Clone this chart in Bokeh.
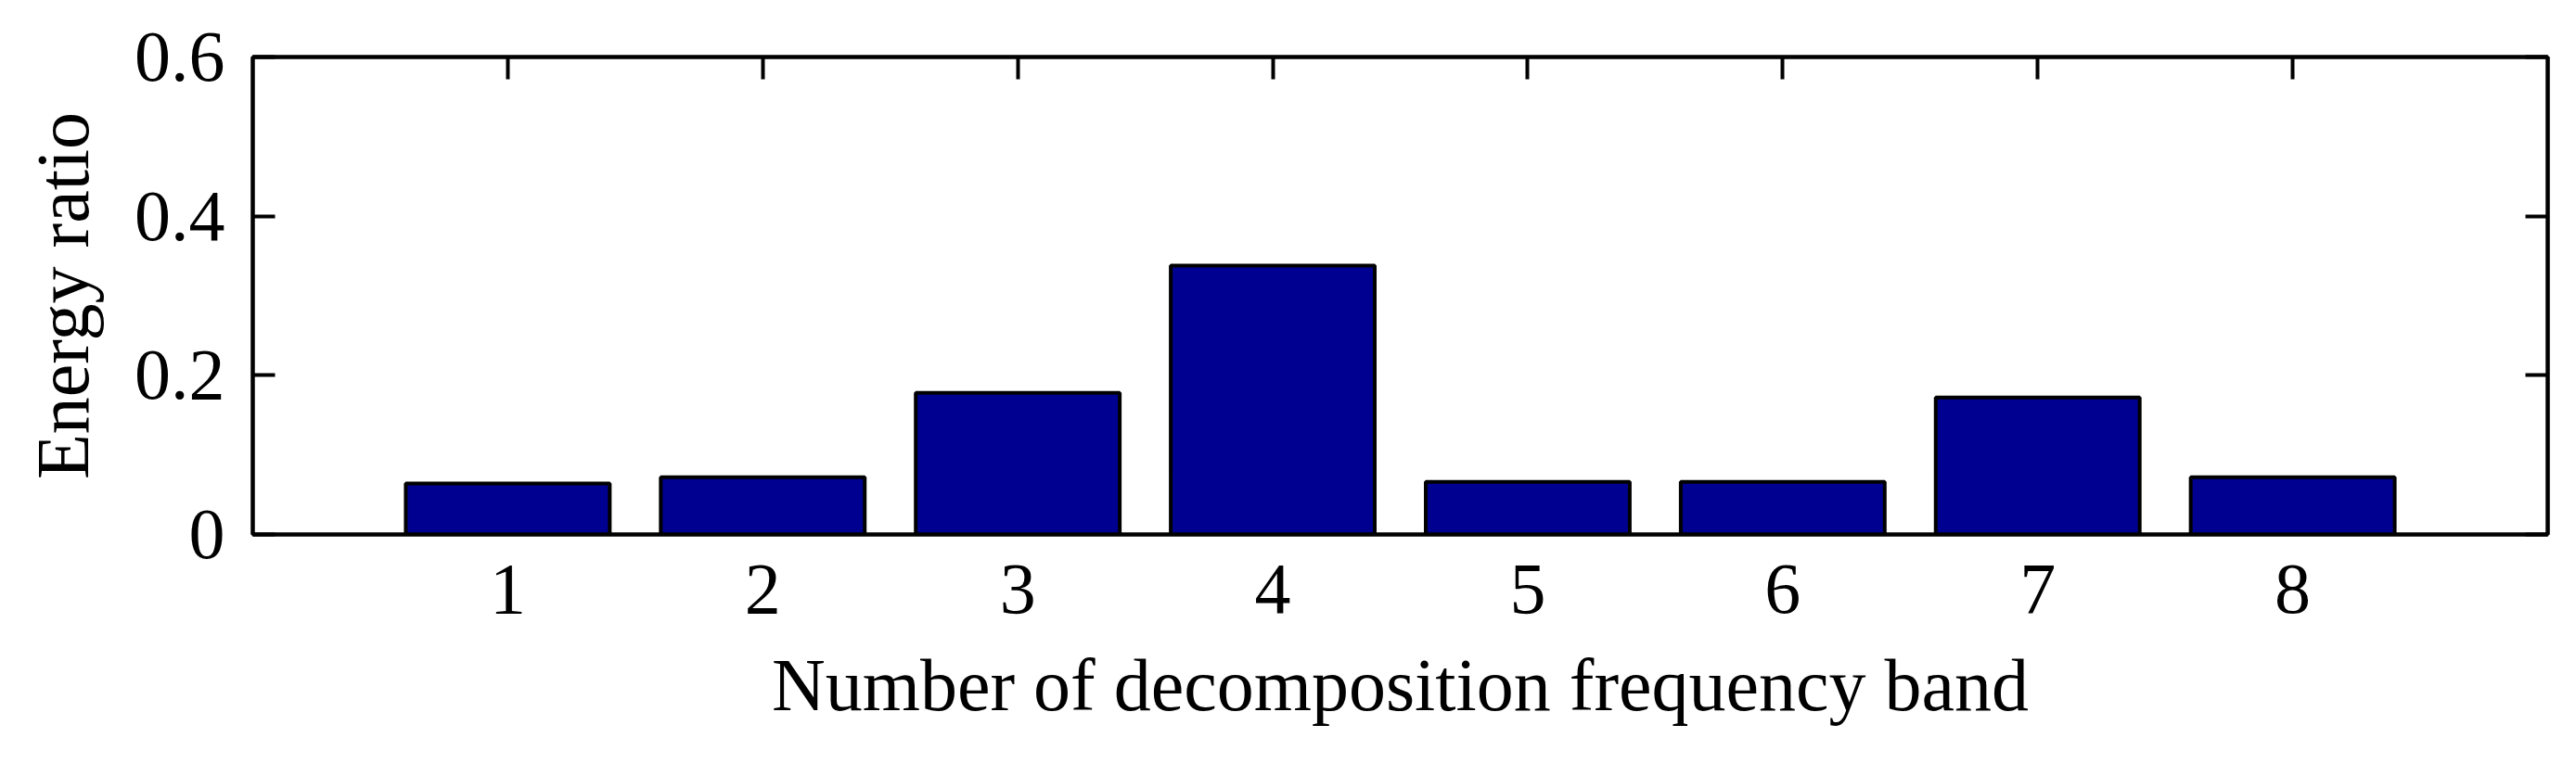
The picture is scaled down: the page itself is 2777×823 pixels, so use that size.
from bokeh.plotting import figure
from bokeh.models import LinearAxis, FixedTicker, Range1d
from bokeh.embed import file_html
from bokeh.resources import INLINE

# Data
bands = [1, 2, 3, 4, 5, 6, 7, 8]
energy_ratio = [0.064, 0.072, 0.178, 0.338, 0.066, 0.066, 0.172, 0.072]
y_ticks = [0, 0.2, 0.4, 0.6]
y_tick_labels = {0: "0", 0.2: "0.2", 0.4: "0.4", 0.6: "0.6"}
x_label = "Number of decomposition frequency band"
y_label = "Energy ratio"

FONT = "Liberation Serif"
BAR_COLOR = "#000090"

p = figure(width=2761, height=807, output_backend="svg", toolbar_location=None,
           x_range=Range1d(0, 9), y_range=Range1d(0, 0.6),
           min_border_left=272, min_border_right=15, min_border_top=61, min_border_bottom=231,
           background_fill_color="white", border_fill_color="white")
p.xgrid.visible = False
p.ygrid.visible = False
p.outline_line_color = "black"
p.outline_line_width = 4

p.vbar(x=bands, top=energy_ratio, width=0.8, fill_color=BAR_COLOR,
       line_color="black", line_width=4)

def style_axis(ax, ticks, show_labels):
    ax.ticker = FixedTicker(ticks=ticks)
    ax.major_tick_in = 24
    ax.major_tick_out = 0
    ax.minor_tick_line_color = None
    ax.major_tick_line_width = 4
    ax.major_tick_line_color = "black"
    ax.axis_line_width = 4
    ax.axis_line_color = "black"
    ax.major_label_text_font = FONT
    ax.major_label_text_font_size = "78px"
    ax.major_label_text_color = "black"
    ax.axis_label_text_font = FONT
    ax.axis_label_text_font_size = "80px"
    ax.axis_label_text_font_style = "normal"
    ax.axis_label_text_color = "black"
    if not show_labels:
        ax.major_label_overrides = {t: "" for t in ticks}
        ax.major_label_standoff = 0

xa = p.xaxis[0]
style_axis(xa, bands, True)
xa.major_tick_in = 0  # bottom ticks are hidden behind the bars in the original
xa.axis_label = x_label
xa.major_label_standoff = 33
xa.axis_label_standoff = 31

ya = p.yaxis[0]
style_axis(ya, y_ticks, True)
ya.major_label_overrides = y_tick_labels
ya.axis_label = y_label
ya.major_label_standoff = 30
ya.axis_label_standoff = 30

top_ax = LinearAxis()
style_axis(top_ax, bands, False)
p.add_layout(top_ax, "above")

right_ax = LinearAxis()
style_axis(right_ax, y_ticks, False)
p.add_layout(right_ax, "right")

open("out.html", "w").write(file_html(p, INLINE))
